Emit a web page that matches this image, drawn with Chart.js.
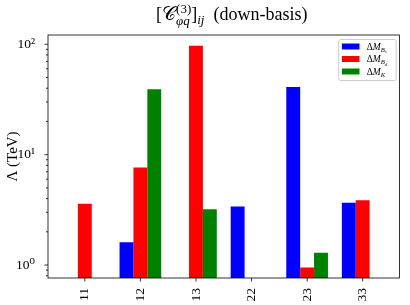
<!DOCTYPE html>
<html><head><meta charset="utf-8">
<script src="https://cdn.jsdelivr.net/npm/chart.js@4.4.1/dist/chart.umd.min.js"></script>
<style>html,body{margin:0;padding:0;background:#fff;}#wrap{width:410px;height:305px;}</style>
</head><body><div id="wrap"><canvas id="c" width="410" height="305"></canvas></div>
<script>
// ---- data ----
const categories = ['11', '12', '13', '22', '23', '33'];
const seriesNames = ['ΔM_{B_s}', 'ΔM_{B_d}', 'ΔM_K'];
const seriesSub = ['B', 'B', 'K'];
const seriesSubSub = ['s', 'd', ''];
const dMBs = [null, 1.61, null, 3.39, 41.1, 3.66];
const dMBd = [3.59, 7.64, 97.1, null, 0.95, 3.87];
const dMK  = [null, 39.2, 3.21, null, 1.29, null];
const seriesColors = ['#0000ff', '#ff0000', '#008000'];
const yMin = 0.763, yMax = 121.4;
const yTickValues = [0.8, 0.9, 1, 2, 3, 4, 5, 6, 7, 8, 9, 10, 20, 30, 40, 50, 60, 70, 80, 90, 100];
const yTickLabels = {1: '10⁰', 10: '10¹', 100: '10²'};
const yTitle = 'Λ (TeV)';
const xMin = -0.6625, xMax = 5.6625;

const SERIF = '"Liberation Serif", "DejaVu Serif", serif';
const allSeries = [dMBs, dMBd, dMK];

const framePlugin = {
  id: 'frame',
  afterDatasetsDraw(chart) {
    const {ctx, chartArea: a, scales: {x, y}} = chart;
    ctx.save();
    ctx.strokeStyle = '#000';
    ctx.lineWidth = 0.8;
    ctx.strokeRect(a.left, a.top, a.right - a.left, a.bottom - a.top);
    ctx.beginPath();
    x.ticks.forEach(t => {
      const px = x.getPixelForValue(t.value);
      ctx.moveTo(px, a.bottom); ctx.lineTo(px, a.bottom + 3.5);
    });
    y.ticks.forEach(t => {
      const py = y.getPixelForValue(t.value);
      const len = yTickLabels[t.value] ? 3.5 : 2;
      ctx.moveTo(a.left, py); ctx.lineTo(a.left - len, py);
    });
    ctx.stroke();
    ctx.restore();
  }
};

function drawRuns(ctx, runs, x0, y0) {
  let x = x0;
  runs.forEach(r => {
    ctx.font = r.font;
    if (r.stack) {
      let w = 0;
      r.stack.forEach(s => {
        ctx.font = s.font;
        ctx.fillText(s.text, x, y0 + s.dy);
        w = Math.max(w, ctx.measureText(s.text).width);
      });
      x += w;
    } else {
      ctx.fillText(r.text, x, y0 + (r.dy || 0));
      x += ctx.measureText(r.text).width;
    }
  });
  return x - x0;
}
function measureRuns(ctx, runs) {
  let w = 0;
  runs.forEach(r => {
    if (r.stack) {
      let m = 0;
      r.stack.forEach(s => { ctx.font = s.font; m = Math.max(m, ctx.measureText(s.text).width); });
      w += m;
    } else { ctx.font = r.font; w += ctx.measureText(r.text).width; }
  });
  return w;
}

const titlePlugin = {
  id: 'mtitle',
  afterDraw(chart) {
    const {ctx, chartArea: a} = chart;
    const F = 18, S = 13;
    const reg = `${F}px ${SERIF}`;
    const sreg = `${S}px ${SERIF}`, sit = `italic ${S}px ${SERIF}`;
    const runs = [
      {text: '[', font: reg},
      {text: '𝒞', font: `19px "DejaVu Serif", "DejaVu Sans", serif`},
      {stack: [{text: '(3)', font: sreg, dy: -7}, {text: 'φq', font: sit, dy: 5}]},
      {text: ']', font: reg},
      {text: 'ij', font: sit, dy: 4},
      {text: '  (down-basis)', font: reg}
    ];
    ctx.save();
    ctx.fillStyle = '#000';
    ctx.textBaseline = 'alphabetic';
    const w = measureRuns(ctx, runs);
    const cx = (a.left + a.right) / 2 + 8;
    drawRuns(ctx, runs, cx - w / 2, 20);
    ctx.restore();
  }
};

const legendPlugin = {
  id: 'mlegend',
  afterDraw(chart) {
    const {ctx, chartArea: a} = chart;
    const f = 9.5;
    const bw = 57.5, bh = 41;
    const bx = a.right - 3.8 - bw, by = a.top + 4;
    ctx.save();
    ctx.fillStyle = 'rgba(255,255,255,0.8)';
    ctx.strokeStyle = '#cccccc';
    ctx.lineWidth = 1;
    ctx.beginPath();
    ctx.roundRect(bx + 0.5, by + 0.5, bw, bh, 2);
    ctx.fill(); ctx.stroke();
    ctx.textBaseline = 'alphabetic';
    seriesNames.forEach((name, i) => {
      const cy = by + 7.5 + i * 12.5;
      ctx.fillStyle = seriesColors[i];
      ctx.fillRect(bx + 3.7, cy - 3, 17.6, 6);
      ctx.fillStyle = '#000';
      const runs = [
        {text: 'Δ', font: `${f}px ${SERIF}`},
        {text: 'M', font: `italic ${f}px ${SERIF}`},
        {text: seriesSub[i], font: `italic ${f * 0.7}px ${SERIF}`, dy: 2},
        {text: seriesSubSub[i], font: `italic ${f * 0.5}px ${SERIF}`, dy: 3.5}
      ];
      drawRuns(ctx, runs, bx + 28.5, cy + 3);
    });
    ctx.restore();
  }
};

const mk = vals => vals.map((v, i) => ({x: i, y: v}));

new Chart(document.getElementById('c'), {
  type: 'bar',
  data: {
    datasets: allSeries.map((s, k) => ({
      label: seriesNames[k], data: mk(s), backgroundColor: seriesColors[k], borderWidth: 0
    }))
  },
  options: {
    responsive: false, animation: false, devicePixelRatio: 1,
    layout: {padding: {left: 0, top: 35, right: 10.5, bottom: 0}},
    plugins: {legend: {display: false}, title: {display: false}, tooltip: {enabled: false}},
    datasets: {bar: {categoryPercentage: 0.75, barPercentage: 1, grouped: true}},
    scales: {
      x: {
        type: 'linear', min: xMin, max: xMax, offset: false,
        grid: {display: false, offset: false}, border: {display: false},
        afterBuildTicks(s) { s.ticks = categories.map((c, i) => ({value: i})); },
        ticks: {
          callback: v => categories[v], minRotation: 90, maxRotation: 90, autoSkip: false,
          padding: 2, font: {family: SERIF, size: 13.5}, color: '#000'
        },
        afterFit(s) { s.height = 27; }
      },
      y: {
        type: 'logarithmic', min: yMin, max: yMax,
        grid: {display: false}, border: {display: false},
        afterBuildTicks(s) { s.ticks = yTickValues.map(v => ({value: v})); },
        ticks: {
          callback: v => yTickLabels[v] || '', autoSkip: false,
          padding: 5, font: {family: SERIF, size: 13.5}, color: '#000'
        },
        title: {display: true, text: yTitle, font: {family: SERIF, size: 15}, color: '#000', padding: {top: 4, bottom: 0}},
        afterFit(s) { s.width = 48; }
      }
    }
  },
  plugins: [framePlugin, titlePlugin, legendPlugin]
});
</script></body></html>
